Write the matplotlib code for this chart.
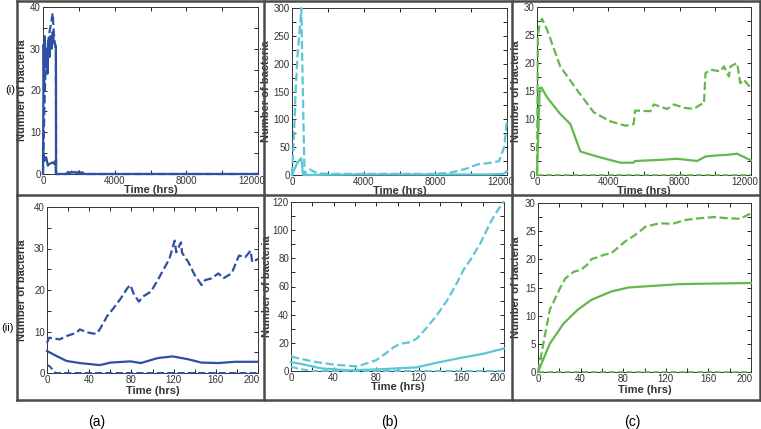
import numpy as np
import matplotlib.pyplot as plt
from matplotlib.ticker import MultipleLocator
from matplotlib.transforms import ScaledTranslation

plt.rcParams['font.family'] = ['Liberation Sans', 'DejaVu Sans']

# colours for the three columns
blue = "#2f4fa3"
cyan = "#5cc6d6"
green = "#62b84c"

# (a)(i) long run
a_top_t_dash = [0, 90, 180, 270, 360, 450, 540, 600, 650, 720, 730, 12000]
a_top_y_dash = [0, 18, 30, 31, 34, 36, 38.5, 34, 31.5, 30.5, 0, 0]
a_top_t_solid = [0, 36, 60, 100, 150, 200, 250, 300, 360, 420, 480, 540, 600, 660, 720, 730]
a_top_y_solid = [0, 31, 20, 33, 26, 30, 24, 32, 28, 33, 30, 34, 32, 31, 30, 0]
a_top_t_low = [0, 90, 180, 270, 360, 450, 540, 630, 700, 720, 1300, 1400, 1500, 1600,
               1700, 1800, 1900, 2000, 2100, 2200, 2300, 12000]
a_top_y_low = [5.6, 3.2, 4, 2, 2.4, 2.6, 2.8, 2.4, 3.2, 0, 0, 0.5, 0.2, 0.6,
               0.3, 0.5, 0.2, 0.6, 0.3, 0.4, 0, 0]

# (b)(i) long run
b_top_t_dash = [0, 100, 200, 300, 400, 480, 520, 540, 600, 650, 700, 800, 1000, 1400, 2000,
                4000, 6000, 8000, 8800, 9200, 9800, 10340, 11090, 11560, 11840, 12000]
b_top_y_dash = [0, 60, 150, 210, 250, 280, 300, 260, 160, 80, 0, 5, 10, 3, 2,
                2, 2, 2, 4, 7, 12, 19, 22, 25, 50, 100]
b_top_t_solid = [0, 250, 450, 520, 620, 700, 4000, 8000, 11000, 11800, 12000]
b_top_y_solid = [0, 19, 28.5, 30, 0, 0, 1, 1, 1, 2, 7]

# (c)(i) long run
c_top_t_dash = [0, 50, 150, 280, 560, 1300, 2240, 3180, 4100, 4950, 5420, 5500, 6360, 6550,
                7300, 7670, 8240, 8800, 9170, 9360, 9450, 9730, 10290, 10480, 10760, 10850,
                11220, 11400, 11600, 12000]
c_top_y_dash = [0, 25, 27, 27.9, 26, 19.4, 15.2, 11.2, 9.6, 8.8, 9.1, 11.5, 11.4, 12.6,
                11.8, 12.6, 12, 11.8, 12.6, 12.7, 18.2, 18.8, 18.5, 19.4, 17.6, 19.4,
                20, 16.4, 17, 15.5]
c_top_t_solid = [0, 150, 250, 560, 1300, 1870, 2430, 3370, 4680, 5420, 5500, 6920, 7860,
                 8980, 9440, 10100, 10660, 11220, 12000]
c_top_y_solid = [0, 15.5, 15.6, 13.9, 10.9, 9.1, 4.2, 3.3, 2.2, 2.2, 2.5, 2.7, 2.9,
                 2.5, 3.3, 3.5, 3.6, 3.8, 2.6]

# (a)(ii) first 200 hrs
a_bot_t_dash = [0, 2, 12, 18.5, 28, 31, 38, 44, 47, 50, 57, 63, 70, 76, 79, 82, 87, 92, 98.5,
                105, 111, 116, 121, 122.5, 127, 128, 134, 140, 146.5, 150, 156, 162.5, 167,
                175, 182, 188, 193, 194.5, 200]
a_bot_y_dash = [7.3, 8.5, 8.1, 8.9, 9.7, 10.5, 9.8, 9.5, 9.5, 10.5, 13.7, 15.6, 18, 20.4,
                21.2, 19.2, 17.2, 18.6, 19.6, 22.4, 25.2, 27.5, 31.9, 29.1, 31.5, 29, 26.7,
                23.6, 21.2, 22.4, 22.8, 24, 22.8, 24, 28.3, 27.9, 29.5, 26.7, 27.5]
a_bot_t_solid = [0, 9, 18.5, 31, 50, 60, 79, 89, 105, 119, 134, 146.5, 162.5, 178.5, 200]
a_bot_y_solid = [5.3, 4.1, 2.9, 2.4, 1.9, 2.5, 2.8, 2.4, 3.6, 4, 3.3, 2.5, 2.4, 2.7, 2.7]
a_bot_t_zero = [0, 3, 8, 200]
a_bot_y_zero = [2, 1.5, 0, 0]

# (b)(ii)
b_bot_t_dash = [0, 7, 23, 42, 61, 67, 80, 89.5, 96, 102, 112, 118, 127.5, 137, 146.5, 156,
                162, 169, 178, 187.6, 194, 200]
b_bot_y_dash = [10.3, 9, 6.4, 4.4, 3.3, 4.4, 7.7, 12.8, 16.7, 19.2, 20.5, 23, 30.8, 39.7,
                50, 62.8, 71.8, 79.5, 91, 106, 114, 120.5]
b_bot_t_solid = [0, 17, 29, 55, 86, 118, 137, 162, 181, 200]
b_bot_y_solid = [6.4, 3.8, 1.8, 0.5, 1.3, 2.6, 5.9, 9.7, 12.3, 16]
b_bot_t_zero = [0, 8, 20, 200]
b_bot_y_zero = [3, 1.5, 0, 0]

# (c)(ii)
c_bot_t_dash = [0, 5, 11, 21, 25.6, 33.6, 40, 46, 50, 62, 69, 82, 91, 101, 114, 126, 139,
                152, 165, 178, 190, 197, 200]
c_bot_y_dash = [0, 5, 11, 15, 16.6, 17.8, 18.1, 19, 20, 20.8, 21.1, 23.2, 24.3, 25.8, 26.4,
                26.3, 27, 27.3, 27.5, 27.3, 27.2, 27.9, 28.1]
c_bot_t_solid = [0, 11, 24, 37, 50, 69, 85, 101, 133, 165, 200]
c_bot_y_solid = [0, 5, 8.6, 11, 12.8, 14.3, 15, 15.2, 15.6, 15.7, 15.8]
c_bot_t_zero = [0, 200]
c_bot_y_zero = [0, 0]

W, H = 761, 429
fig = plt.figure(figsize=(W / 100, H / 100), dpi=100)
axes_list = []


def px_axes(left, top, right, bottom, ylab_x):
    ax = fig.add_axes([left / W, 1 - bottom / H, (right - left) / W, (bottom - top) / H])
    # where the y label centre sits, in figure pixels
    ax._ylab_frac = (ylab_x - left) / (right - left)
    return ax


def style(ax, xmax, xstep, ymax, ystep, xlab_pad):
    ax.set_xlim(0, xmax)
    ax.set_ylim(0, ymax)
    ax.xaxis.set_major_locator(MultipleLocator(xstep))
    ax.xaxis.set_minor_locator(MultipleLocator(xstep / 2))
    ax.yaxis.set_major_locator(MultipleLocator(ystep))
    ax.yaxis.set_minor_locator(MultipleLocator(ystep / 2))
    ax.tick_params(which="both", direction="in", top=True, right=True, length=3,
                   width=0.6, labelsize=7, labelcolor="#333333", pad=1.5)
    for s in ax.spines.values():
        s.set_linewidth(0.7)
        s.set_color("#333333")
    ax.set_ylabel("Number of bacteria", fontsize=8, fontweight="bold", color="#333333")
    ax.yaxis.set_label_coords(ax._ylab_frac, 0.5)
    ax.set_xlabel("Time (hrs)", fontsize=8, fontweight="bold", labelpad=xlab_pad,
                  color="#333333")
    axes_list.append((ax, xmax))


def draw(ax, col, lines):
    for t, y, ls, lw in lines:
        ax.plot(t, y, color=col, ls=ls, lw=lw, clip_on=False, zorder=3)


ax1 = px_axes(43, 7, 258, 174, 27)
draw(ax1, blue, [(a_top_t_solid, a_top_y_solid, "-", 1.6),
                 (a_top_t_dash, a_top_y_dash, "--", 1.6),
                 (a_top_t_low, a_top_y_low, "-", 1.6)])
style(ax1, 12000, 4000, 40, 10, -1)

ax2 = px_axes(292, 8, 507, 175, 271)
draw(ax2, cyan, [(b_top_t_solid, b_top_y_solid, "-", 1.6),
                 (b_top_t_dash, b_top_y_dash, "--", 1.6)])
style(ax2, 12000, 4000, 300, 50, -1)

ax3 = px_axes(537, 7, 751, 175, 521)
draw(ax3, green, [(c_top_t_solid, c_top_y_solid, "-", 1.6),
                  (c_top_t_dash, c_top_y_dash, "--", 1.6),
                  ([0, 12000], [0, 0], "--", 1.2)])
style(ax3, 12000, 4000, 30, 5, -1)

ax4 = px_axes(47, 207, 258, 373, 27)
draw(ax4, blue, [(a_bot_t_solid, a_bot_y_solid, "-", 1.6),
                 (a_bot_t_dash, a_bot_y_dash, "--", 1.6),
                 (a_bot_t_zero, a_bot_y_zero, "--", 1.4)])
style(ax4, 200, 40, 40, 10, 1)

ax5 = px_axes(291, 202, 504, 371, 272)
draw(ax5, cyan, [(b_bot_t_solid, b_bot_y_solid, "-", 1.6),
                 (b_bot_t_dash, b_bot_y_dash, "--", 1.6),
                 (b_bot_t_zero, b_bot_y_zero, "--", 1.4)])
style(ax5, 200, 40, 120, 20, -1)

ax6 = px_axes(538, 203, 751, 372, 521)
draw(ax6, green, [(c_bot_t_solid, c_bot_y_solid, "-", 1.6),
                  (c_bot_t_dash, c_bot_y_dash, "--", 1.6),
                  (c_bot_t_zero, c_bot_y_zero, "--", 1.2)])
style(ax6, 200, 40, 30, 5, 1)

# grey panel frames
frame = "#4a4a4a"
segs = [((17, 760), (1, 1)), ((17, 760), (195, 195)), ((17, 760), (400, 400)),
        ((17, 17), (1, 400)), ((264, 264), (1, 400)), ((512, 512), (1, 400)),
        ((760, 760), (1, 400))]
for xs, ys in segs:
    fig.add_artist(plt.Line2D([x / W for x in xs], [1 - y / H for y in ys],
                              color=frame, lw=1.8, transform=fig.transFigure))

fig.text(5 / W, 1 - 90 / H, "(i)", fontsize=8, va="center", ha="left")
fig.text(1 / W, 1 - 328 / H, "(ii)", fontsize=8, va="center", ha="left")
for x, lab in [(97, "(a)"), (390, "(b)"), (632, "(c)")]:
    fig.text(x / W, 1 - 422 / H, lab, fontsize=10, va="center", ha="center")

# last x tick label sits a little left of its tick, as in the original
fig.canvas.draw()
shift = ScaledTranslation(-6 / 100, 0, fig.dpi_scale_trans)
for ax, xmax in axes_list:
    for tick in ax.xaxis.get_major_ticks():
        if abs(tick.get_loc() - xmax) < 1e-6:
            tick.label1.set_transform(tick.label1.get_transform() + shift)

fig.savefig("out.png", dpi=100)
